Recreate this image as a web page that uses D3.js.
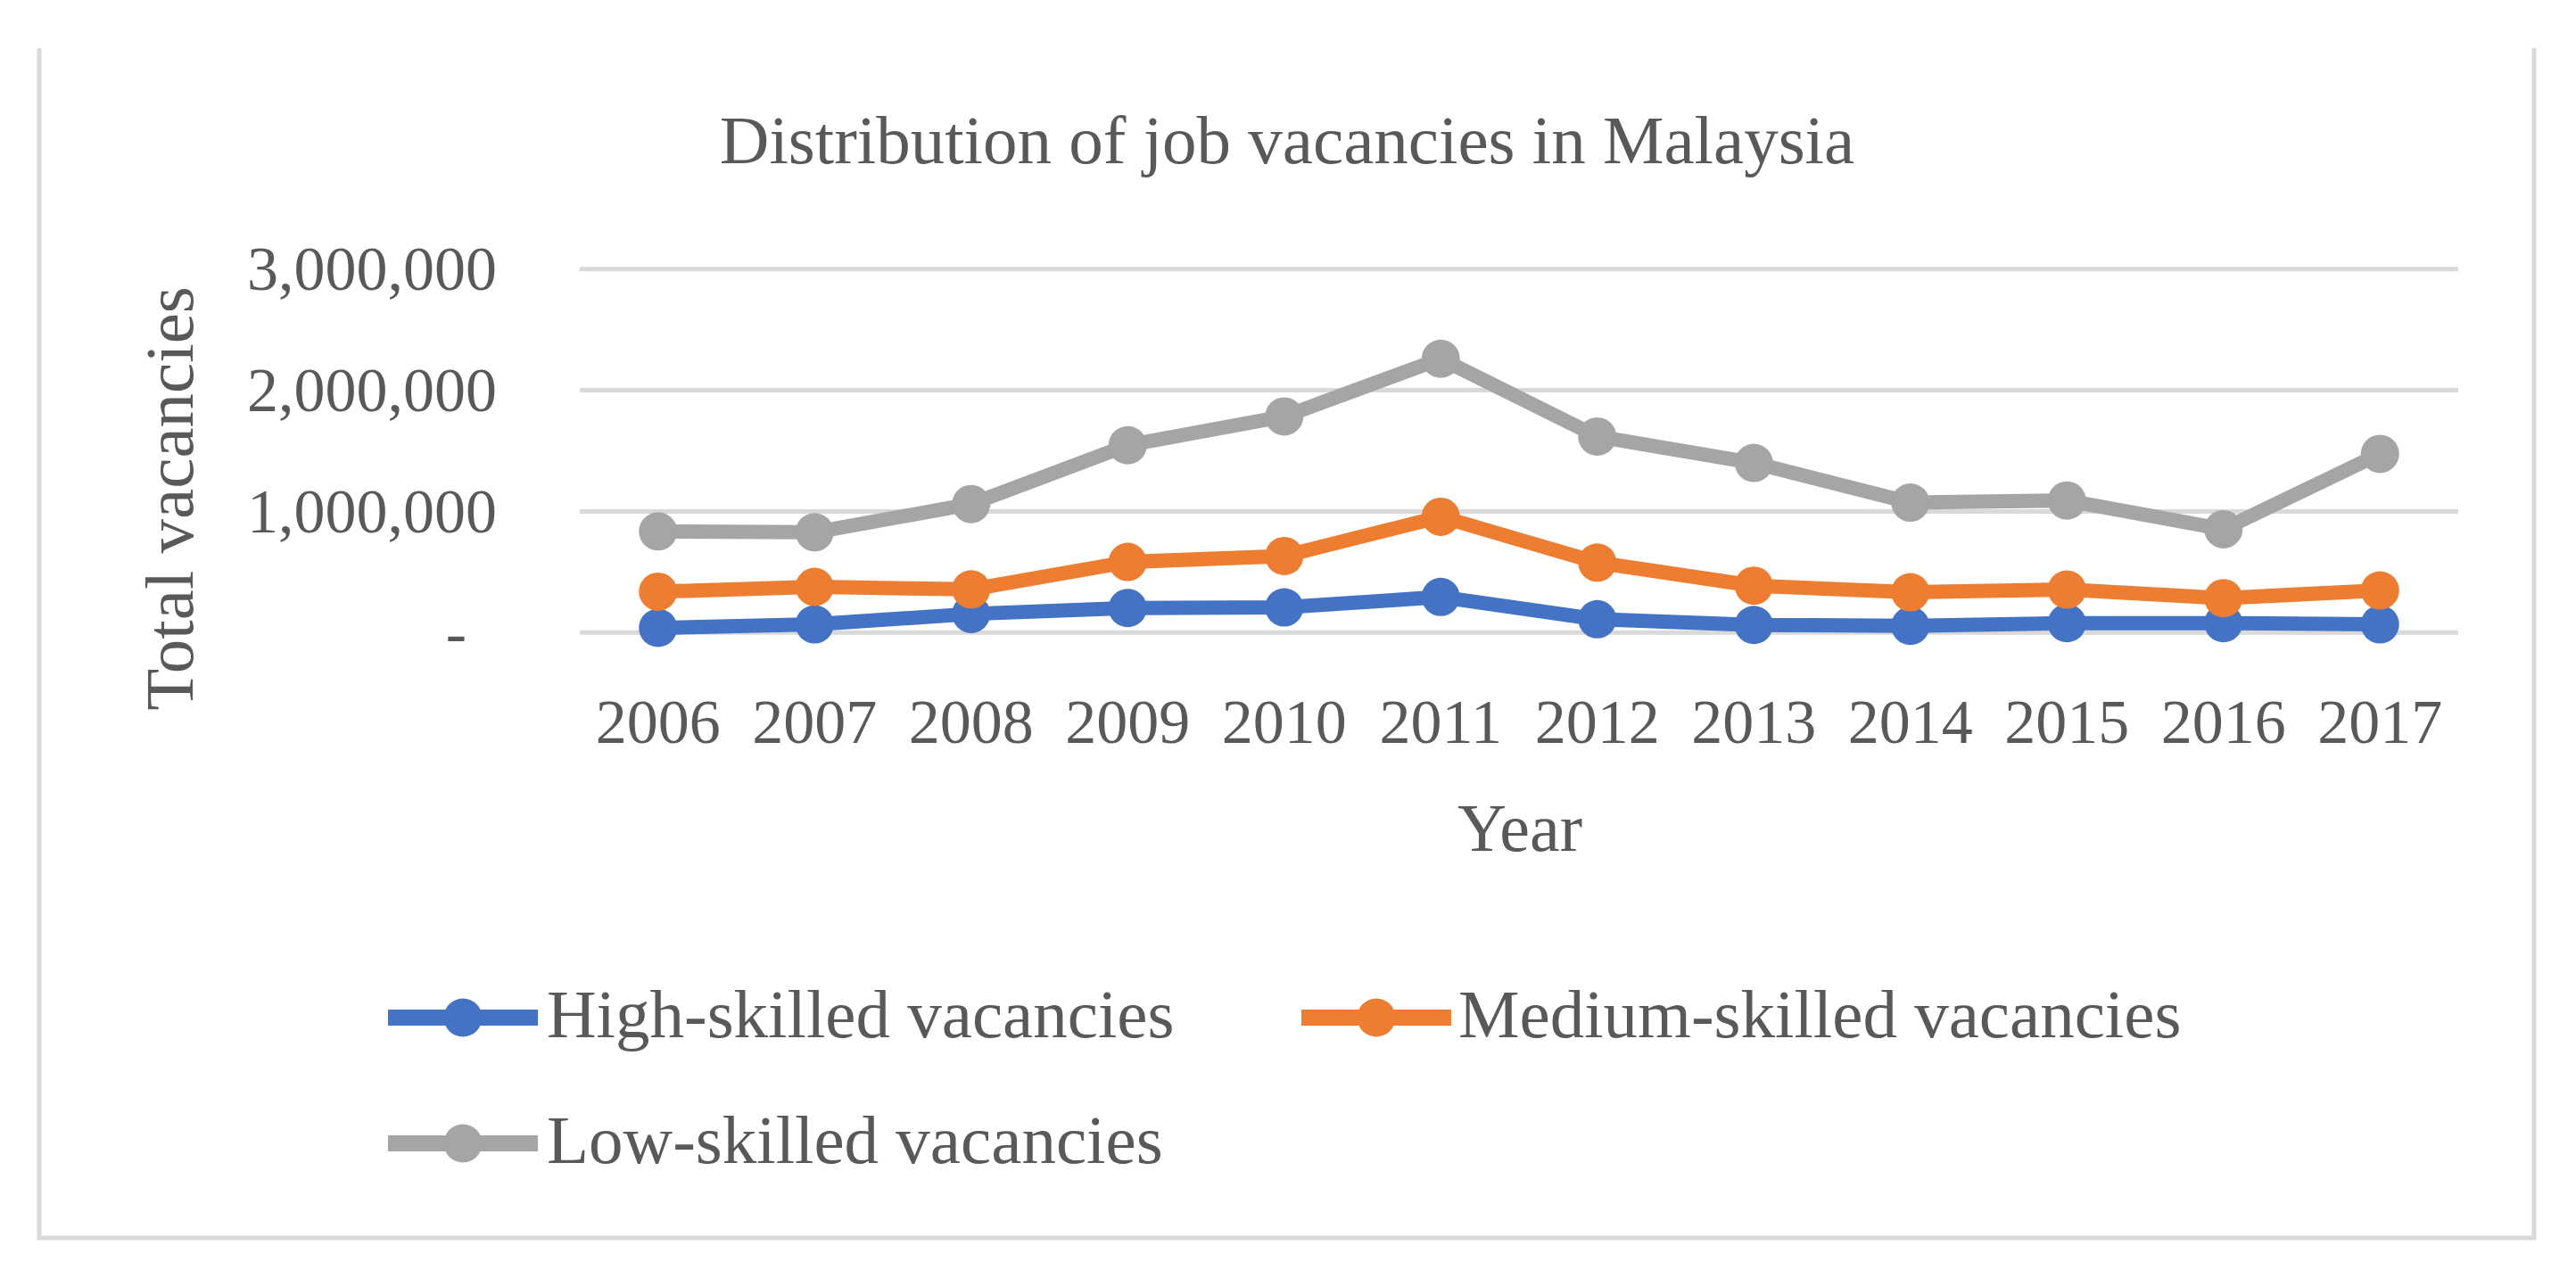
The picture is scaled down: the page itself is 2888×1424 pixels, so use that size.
<!DOCTYPE html>
<html>
<head>
<meta charset="utf-8">
<script src="https://cdn.jsdelivr.net/npm/d3@7"></script>
<style>
html,body{margin:0;padding:0;background:#fff;}
svg{display:block;}
text{font-family:"Liberation Serif","Times New Roman",serif;fill:#595959;}
</style>
</head>
<body>
<svg id="chart" width="2888" height="1424"></svg>
<script>
const years = ["2006","2007","2008","2009","2010","2011","2012","2013","2014","2015","2016","2017"];
const highSkilled   = [39000, 68000, 154000, 203000, 208000, 294000, 110000, 63000, 56000, 78000, 78000, 68000];
const mediumSkilled = [338000, 377000, 357000, 583000, 632000, 956000, 578000, 387000, 333000, 355000, 284000, 348000];
const lowSkilled    = [835000, 828000, 1061000, 1546000, 1784000, 2260000, 1618000, 1400000, 1073000, 1090000, 853000, 1475000];
const seriesNames   = ["High-skilled vacancies", "Medium-skilled vacancies", "Low-skilled vacancies"];
const seriesColors  = ["#4472C4", "#ED7D31", "#A5A5A5"];
const yTicks = [0, 1000000, 2000000, 3000000];
const titleText = "Distribution of job vacancies in Malaysia";
const xTitle = "Year";
const yTitle = "Total vacancies";

const series = [highSkilled, mediumSkilled, lowSkilled].map((v, i) => ({
  name: seriesNames[i], color: seriesColors[i], values: v
}));

const svg = d3.select("#chart");
const FS = 70;   // tick labels
const FL = 77;   // titles and legend

// chart border (no top edge)
svg.append("path")
  .attr("d", "M44,54 V1388 H2841 V54")
  .attr("fill", "none").attr("stroke", "#D9D9D9").attr("stroke-width", 5);

const plot = {left: 650, right: 2756, top: 301.7, bottom: 709.3};

const x = d3.scaleBand().domain(years).range([plot.left, plot.right]).padding(0);
const y = d3.scaleLinear().domain([0, 3000000]).range([plot.bottom, plot.top]);

// gridlines
svg.append("g").selectAll("line").data(yTicks).join("line")
  .attr("x1", plot.left).attr("x2", plot.right)
  .attr("y1", d => y(d)).attr("y2", d => y(d))
  .attr("stroke", "#D9D9D9").attr("stroke-width", 5);

// y axis labels
const yAxis = d3.axisLeft(y).tickValues(yTicks).tickSize(0).tickPadding(0)
  .tickFormat(d => d === 0 ? "-" : d3.format(",")(d));
const gy = svg.append("g").attr("transform", "translate(557,0)").call(yAxis);
gy.select(".domain").remove();
gy.selectAll("text")
  .attr("font-family", "Liberation Serif").attr("font-size", FS).attr("fill", "#595959")
  .attr("dy", "0.33em")
  .attr("x", d => d === 0 ? -34 : 0);

// x axis labels
const xAxis = d3.axisBottom(x).tickSize(0).tickPadding(0);
const gx = svg.append("g").attr("transform", "translate(0,833)").call(xAxis);
gx.select(".domain").remove();
gx.selectAll("text")
  .attr("font-family", "Liberation Serif").attr("font-size", FS).attr("fill", "#595959")
  .attr("dy", 0).attr("y", 0);

// titles
svg.append("text").attr("x", 1443).attr("y", 183).attr("text-anchor", "middle")
  .attr("font-size", FL).text(titleText);
svg.append("text").attr("x", 1704).attr("y", 954).attr("text-anchor", "middle")
  .attr("font-size", 76).text(xTitle);
svg.append("text").attr("transform", "translate(216,559) rotate(-90)").attr("text-anchor", "middle")
  .attr("font-size", FL).text(yTitle);

// series
const line = d3.line().x((d, i) => x(years[i]) + x.bandwidth() / 2).y(d => y(d));
series.forEach(s => {
  const g = svg.append("g");
  g.append("path").attr("d", line(s.values))
    .attr("fill", "none").attr("stroke", s.color).attr("stroke-width", 16)
    .attr("stroke-linejoin", "round").attr("stroke-linecap", "round");
  g.selectAll("circle").data(s.values).join("circle")
    .attr("cx", (d, i) => x(years[i]) + x.bandwidth() / 2)
    .attr("cy", d => y(d))
    .attr("r", 21.5).attr("fill", s.color);
});

// legend
const legendPos = [
  {lx: 435, ly: 1141, tx: 613, ty: 1163},
  {lx: 1459, ly: 1141, tx: 1635, ty: 1163},
  {lx: 435, ly: 1282, tx: 613, ty: 1304}
];
series.forEach((s, i) => {
  const p = legendPos[i];
  const g = svg.append("g");
  g.append("line").attr("x1", p.lx).attr("x2", p.lx + 168).attr("y1", p.ly).attr("y2", p.ly)
    .attr("stroke", s.color).attr("stroke-width", 18);
  g.append("circle").attr("cx", p.lx + 84).attr("cy", p.ly).attr("r", 21.5).attr("fill", s.color);
  g.append("text").attr("x", p.tx).attr("y", p.ty).attr("font-size", FL).text(s.name);
});
</script>
</body>
</html>
